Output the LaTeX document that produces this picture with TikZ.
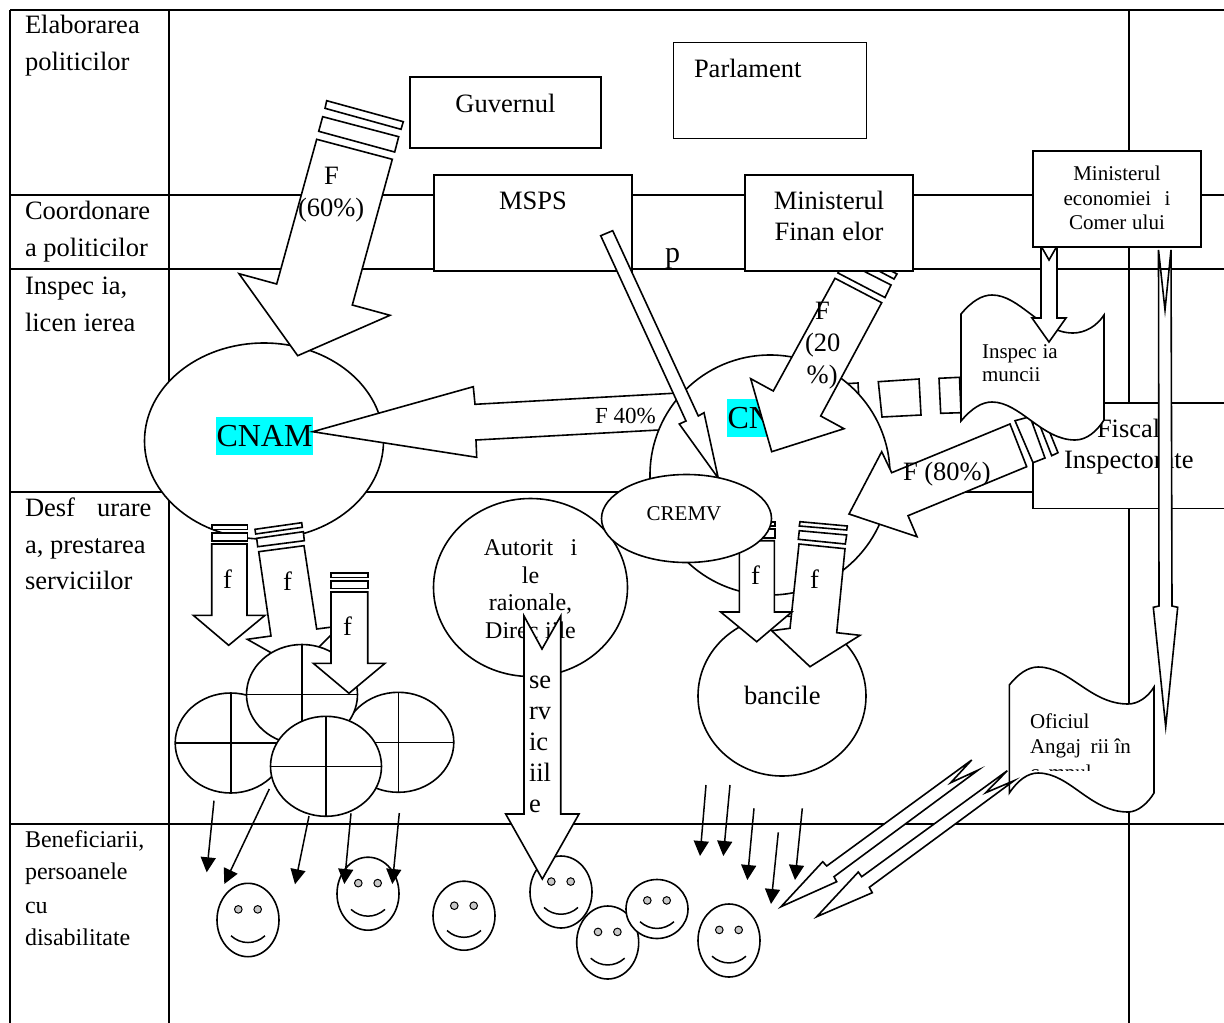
\documentclass[tikz,border=0pt]{standalone}
\usepackage{fontspec}
\setmainfont{Liberation Serif}
\usetikzlibrary{arrows.meta}
\newcommand\gp[1]{\hspace{#1em}}
\newcommand\tx[5]{\node (#1) at (#2,#3) [#4] {#5};}
\newcommand\smiley[4]{%
  \begin{scope}[shift={(#2,#3)}]
    \draw[shp] (0,0) ellipse [x radius=31pt, y radius=#4pt];
    \draw[shp,fill=eyegrey,line width=1pt] (-9.7,-0.29*#4) circle [radius=3.8pt];
    \draw[shp,fill=eyegrey,line width=1pt] (9.7,-0.29*#4) circle [radius=3.8pt];
    \draw[line width=1.5pt] (-17,0.43*#4) .. controls (-7,0.43*#4+9) and (7,0.43*#4+9) .. (17,0.43*#4);
  \end{scope}}
\newcommand\crossed[3]{%
  \begin{scope}[shift={(#2,#3)}]
    \draw[shp] (0,0) ellipse [x radius=55.5pt, y radius=50pt];
    \draw[line width=1.6pt] (-55.5,0) -- (55.5,0);
    \draw[line width=1.6pt] (0,-50) -- (0,50);
  \end{scope}}
\newcommand\thin[5]{%
  \coordinate (#1s) at (#2,#3);
  \coordinate (#1e) at (#4,#5);
  \draw[thinarrow] (#1s) -- (#1e);}
\definecolor{eyegrey}{HTML}{C8C8C8}
\definecolor{hl}{HTML}{00FFFF}
\tikzset{
  shp/.style={draw=black,fill=white,line width=1.6pt,line join=miter},
  tbl/.style={draw=black,line width=1.8pt},
  txt/.style={anchor=base west,inner sep=0pt,outer sep=0pt},
  ctr/.style={anchor=base,inner sep=0pt,outer sep=0pt},
  big/.style={font=\fontsize{26.5}{30}\selectfont},
  mid/.style={font=\fontsize{24}{28}\selectfont},
  sma/.style={font=\fontsize{21}{24}\selectfont},
  huge32/.style={font=\fontsize{32}{36}\selectfont},
  thinarrow/.style={line width=1.5pt,-{Triangle[length=15pt,width=15pt]}},
}
\begin{document}
\begin{tikzpicture}[x=1pt,y=-1pt]
\useasboundingbox (0,0) rectangle (1224,1023);
\fill[white] (0,0) rectangle (1224,1023);
% table
\draw[tbl] (10,10) -- (1224,10);
\draw[tbl] (10,195) -- (1224,195);
\draw[tbl] (10,269) -- (1224,269);
\draw[tbl] (10,492) -- (1224,492);
\draw[tbl] (10,824) -- (1224,824);
\draw[tbl] (10,10) -- (10,1023);
\draw[tbl] (169,10) -- (169,1023);
\draw[tbl] (1129,10) -- (1129,1023);
% left labels
\tx{l1}{25}{33}{txt,big}{Elaborarea}
\tx{l2}{25}{70}{txt,big}{politicilor}
\tx{l3}{25}{219}{txt,big}{Coordonare}
\tx{l4}{25}{256}{txt,big}{a politicilor}
\tx{l5}{25}{294}{txt,big}{Inspec\gp{0.278}ia,}
\tx{l6}{25}{331}{txt,big}{licen\gp{0.278}ierea}
\tx{l7}{25}{516}{txt,big}{Desf\gp{0.83}urare}
\tx{l8}{25}{553}{txt,big}{a, prestarea}
\tx{l9}{25}{589}{txt,big}{serviciilor}
\tx{l10}{25}{847}{txt,mid}{Beneficiarii,}
\tx{l11}{25}{879}{txt,mid}{persoanele}
\tx{l12}{25}{913}{txt,mid}{cu}
\tx{l13}{25}{945}{txt,mid}{disabilitate}
% top boxes
\draw[shp,line width=1pt] (673,42) rectangle (866,138);
\tx{parl}{694}{77}{txt,big}{Parlament}
\draw[shp] (410,77) rectangle (601,148);
\tx{guv}{505.5}{112}{ctr,big}{Guvernul}
% smileys
\smiley{s1}{248}{920}{36.7}
\smiley{s2}{368}{893.7}{36.5}
\smiley{s3}{464}{915.7}{34.5}
\smiley{s4}{561}{892}{36}
\smiley{s5}{607.7}{942.5}{36.5}
\smiley{s6}{657}{909}{29.5}
\smiley{s7}{729}{940.5}{36.5}
% CNAM
\draw[shp] (264,441) ellipse [x radius=119.5pt, y radius=98pt];
\fill[hl] (216,417) rectangle (313,455);
\tx{cnam}{216.5}{446.3}{txt,huge32}{CNAM}
% F 60
\draw[shp] (326.7,100.7) -- (403.3,121.7) -- (401,129.3) -- (325,108.3) -- cycle;
\draw[shp] (322.7,116.7) -- (398.7,136.7) -- (394.7,152) -- (318.7,131.3) -- cycle;
\draw[shp] (316.7,139.3) -- (392.3,159.3) -- (352.3,305) -- (390,315.3) -- (297.7,355.7) -- (239,273.7) -- (276.7,284) -- cycle;
\tx{f60a}{324}{184}{txt,big}{F}
\tx{f60b}{298}{216.7}{txt,big}{(60\%)}
% MSPS box
\draw[shp] (434,175) rectangle (632,271);
\tx{msps}{533}{209}{ctr,big}{MSPS}
\tx{pp}{665}{262}{txt,font=\fontsize{30}{34}\selectfont}{p}
% F 20 strips and finance box
\draw[shp] (850,250) -- (897,274) -- (894,279) -- (847,254) -- cycle;
\draw[shp] (844,261) -- (891,285) -- (885,297.5) -- (838,273) -- cycle;
\draw[shp] (745,175) rectangle (913,271);
\tx{fin1}{829}{209}{ctr,big}{Ministerul}
\tx{fin2}{829}{240}{ctr,big}{Finan\gp{0.278}elor}
% fiscal box
\draw[shp] (1033,403) -- (1230,403) -- (1230,508.5) -- (1033,508.5) -- cycle;
\tx{fis1}{1097}{437}{txt,big}{Fiscal}
\tx{fis2}{1064}{468}{txt,big}{Inspectorate}
% F 40 arrow and its strips
\draw[shp] (312.7,431.7) -- (473.3,386.7) -- (475,404.3) -- (858,383) -- (860,419) -- (476,440) -- (476.7,457.3) -- cycle;
\draw[shp] (878.3,381.7) -- (919,379) -- (921,415) -- (882,417) -- cycle;
\draw[shp] (939,378.3) -- (959.5,377.3) -- (961,412.7) -- (940.7,413.3) -- cycle;
% CNAS circle
\draw[shp] (770,475) ellipse [x radius=120pt, y radius=120pt];
\fill[hl] (727,399) rectangle (772,437);
\tx{cnas}{727.5}{428.3}{txt,huge32}{CN}
\tx{f40}{595}{423}{txt,font=\fontsize{23}{26}\selectfont}{F 40\%}
% bancile
\draw[shp] (782,696) ellipse [x radius=84pt, y radius=80pt];
\tx{banc}{744}{704}{txt,big}{bancile}
% f arrows at bancile
\draw[shp] (800,521.7) -- (847.3,526) -- (846.7,530) -- (799.3,526) -- cycle;
\draw[shp] (799.3,530.7) -- (846.7,535) -- (845.3,544) -- (798.3,539.3) -- cycle;
\draw[shp] (799,544) -- (845,548.7) -- (836.7,632.7) -- (860,635.3) -- (810,666.7) -- (771.7,630.7) -- (790,628.3) -- cycle;
\tx{f5}{810}{588}{txt,big}{f}
\draw[shp] (739.3,521.7) rectangle (775,526);
\draw[shp] (739.3,529) rectangle (775,538);
\draw[shp] (739.3,540.7) -- (774.3,540.7) -- (774.3,612) -- (791.7,612) -- (756.7,641.7) -- (720.7,612) -- (739.3,612) -- cycle;
\tx{f4}{751}{584}{txt,big}{f}
% F 20 body
\draw[shp] (835,278.3) -- (881.7,302.7) -- (820.7,416) -- (844,428.7) -- (771.7,451.7) -- (750.7,378.7) -- (773.3,391) -- cycle;
\tx{f20a}{815}{319}{txt,big}{F}
\tx{f20b}{805}{351}{txt,big}{(20}
\tx{f20c}{806.7}{383}{txt,big}{\%)}
% F 80
\draw[shp] (1035,413) -- (1041,411) -- (1058,452.7) -- (1051.7,455.7) -- cycle;
\draw[shp] (1015,420.7) -- (1030,416.7) -- (1045,458) -- (1033,462.7) -- cycle;
\draw[shp] (1010,424) -- (1026.7,466.7) -- (908,515.7) -- (917,536.7) -- (849,514) -- (881.7,451.7) -- (891.7,472.7) -- cycle;
\tx{f80}{903}{480}{txt,big}{F (80\%)}
% Inspectia
\draw[shp] (961,314) .. controls (972,301) and (982,295) .. (992,295) .. controls (1020,295) and (1040,333) .. (1073,333) .. controls (1085,333) and (1097,326) .. (1104,315) -- (1104,420) .. controls (1097,431) and (1087,440) .. (1075,440) .. controls (1042,440) and (1020,402) .. (992,402) .. controls (982,402) and (972,408) .. (961,421) -- cycle;
\tx{ins1}{982}{358}{txt,sma}{Inspec\gp{0.278}ia}
\tx{ins2}{982}{381.7}{txt,sma}{muncii}
\draw[shp] (1041,246) -- (1049,260) -- (1057,246) -- (1057,318) -- (1066,318) -- (1049,342) -- (1032,318) -- (1041,318) -- cycle;
% long thin arrow
\draw[shp] (1158.5,250) -- (1165,310) -- (1171,250) -- (1172,606) -- (1177.7,607.3) -- (1165.7,726.7) -- (1153.3,607.3) -- (1159,606) -- cycle;
% ministry of economy
\draw[shp] (1033,151) rectangle (1201,247);
\tx{eco1}{1117}{180.7}{ctr,sma}{Ministerul}
\tx{eco2}{1117}{205}{ctr,sma}{economiei \gp{0.389}i}
\tx{eco3}{1117}{229.3}{ctr,sma}{Comer\gp{0.278}ului}
% MSPS arrow
\draw[shp] (600.7,235.7) -- (612.7,230.7) -- (698.3,416) -- (704,412.7) -- (718.3,478.3) -- (679.3,424) -- (686,421) -- cycle;
% Autoritati
\draw[shp] (530.5,587.5) ellipse [x radius=97pt, y radius=89pt];
\tx{au1}{530.5}{555}{ctr,mid}{Autorit\gp{0.722}i}
\tx{au2}{530.5}{583}{ctr,mid}{le}
\tx{au3}{530.5}{610}{ctr,mid}{raionale,}
\tx{au4}{530.5}{638}{ctr,mid}{Direc\gp{0.278}iile}
% CREMV
\draw[shp] (686.5,518.5) ellipse [x radius=85pt, y radius=44pt];
\tx{crem}{646.7}{520}{txt,sma}{CREMV}
% servicii arrow
\draw[shp] (524,616) -- (542,649) -- (560.7,616) -- (560.7,814) -- (579,814) -- (542.3,879) -- (505.7,814) -- (524,814) -- cycle;
\tx{se1}{529}{688}{txt,big}{se}
\tx{se2}{529}{719}{txt,big}{rv}
\tx{se3}{529}{750}{txt,big}{ic}
\tx{se4}{529}{781}{txt,big}{iil}
\tx{se5}{529}{812}{txt,big}{e}
% left f arrows
\draw[shp] (211.7,525) rectangle (247.3,529.3);
\draw[shp] (211.7,532.7) rectangle (247.3,540.7);
\draw[shp] (211.7,544) -- (247,544) -- (247,615.3) -- (265,615.3) -- (228.7,645.3) -- (193.3,615.3) -- (211.7,615.3) -- cycle;
\tx{f1}{223}{588}{txt,big}{f}
\draw[shp] (255,529.3) -- (301.7,522.7) -- (302.3,527.3) -- (255.7,534) -- cycle;
\draw[shp] (256.7,538.3) -- (303.3,531.7) -- (304.3,540.7) -- (257.7,546.7) -- cycle;
\draw[shp] (258.7,551.7) -- (304,545.7) -- (316.7,629) -- (340,626) -- (298,668) -- (247.3,639.3) -- (271,636) -- cycle;
\tx{f2}{283}{590}{txt,big}{f}
% crossed circles
\crossed{c1}{230.7}{743}
\crossed{c2}{398.3}{742.3}
\crossed{c3}{302}{694.5}
\draw[shp] (331,572.7) rectangle (367.7,577.3);
\draw[shp] (331,581) rectangle (367.7,588.3);
\draw[shp] (331,592) -- (367.7,592) -- (367.7,663.3) -- (385,663.3) -- (349,693.3) -- (313.3,663.3) -- (331,663.3) -- cycle;
\tx{f3}{343}{635}{txt,big}{f}
\crossed{c4}{326}{766.3}
% Oficiul
\draw[shp] (1009.3,685) .. controls (1018,674) and (1028,667) .. (1038,667) .. controls (1070,667) and (1090,704) .. (1128,704) .. controls (1138,704) and (1148,697) .. (1154,687) -- (1154,793) .. controls (1148,803) and (1138,812) .. (1128,812) .. controls (1090,812) and (1070,773) .. (1038,773) .. controls (1028,773) and (1018,780) .. (1009.3,793) -- cycle;
\tx{of1}{1030}{728}{txt,sma}{Oficiul}
\tx{of2}{1030}{753}{txt,sma}{Angaj\gp{0.444}rii în}
\begin{scope}
  \clip (1025,760) rectangle (1110,770.5);
  \tx{of3}{1030}{779}{txt,sma}{c\gp{0.444}mpul}
\end{scope}
% long double arrows
\draw[shp] (971.7,760) -- (950.7,782.7) -- (978.3,770) -- (834,876.7) -- (836.7,881.7) -- (781,906.7) -- (822.7,861.7) -- (826.7,866) -- cycle;
\draw[shp] (1007.3,770.7) -- (985.7,792.7) -- (1014,780.7) -- (869.3,887.3) -- (872.3,892.7) -- (816.7,916.7) -- (858.3,872) -- (861.7,876.7) -- cycle;
% thin arrows
\thin{a1}{214}{800.7}{206.7}{872.3}
\thin{a2}{269.3}{789}{224.3}{884}
\thin{a3}{309}{816}{295}{884.3}
\thin{a4}{351}{813.3}{344.3}{884}
\thin{a5}{399.3}{813}{392.3}{884}
\thin{b1}{706}{785}{700}{856}
\thin{b2}{730}{785}{723.3}{856}
\thin{b3}{754}{808.3}{747.3}{880}
\thin{b4}{778.3}{832.3}{771}{904}
\thin{b5}{802.3}{808.3}{795}{880}
\end{tikzpicture}
\end{document}
